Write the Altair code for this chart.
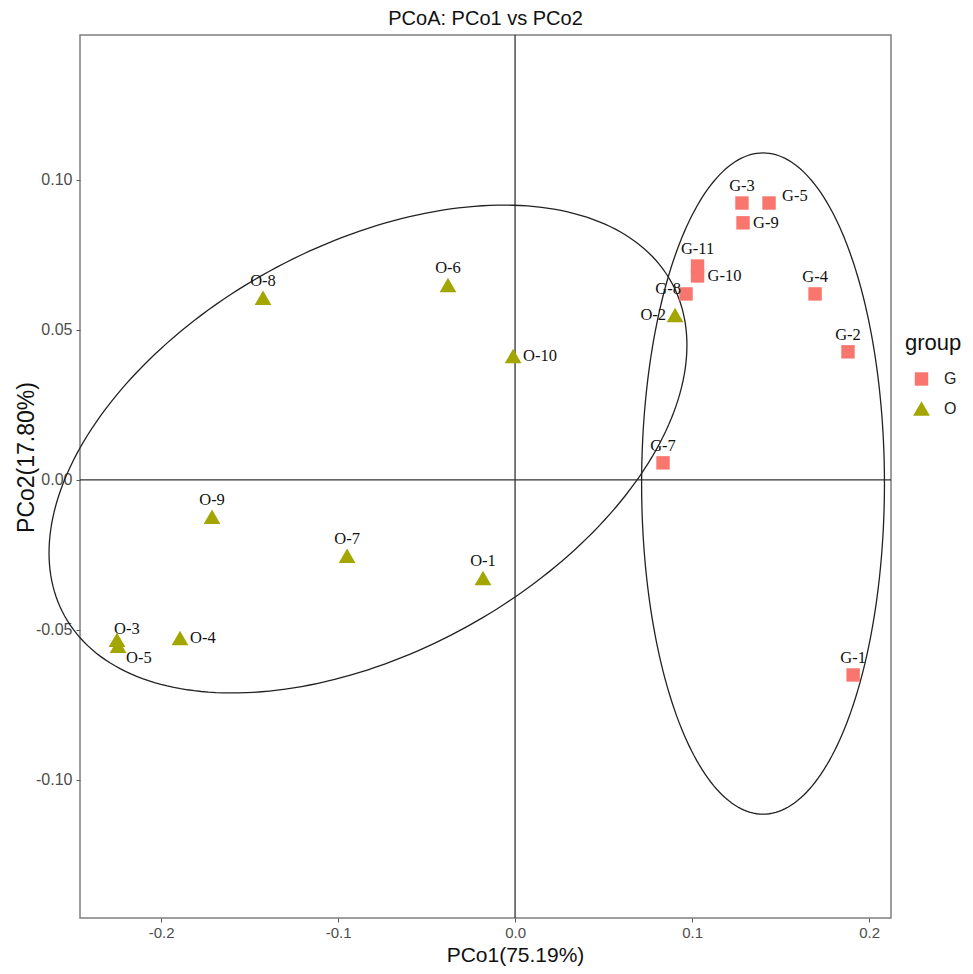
import altair as alt
import pandas as pd
import numpy as np

# ---- data ----
sample_ids = ["G-1", "G-2", "G-3", "G-4", "G-5", "G-7", "G-8", "G-9", "G-10", "G-11",
              "O-1", "O-2", "O-3", "O-4", "O-5", "O-6", "O-7", "O-8", "O-9", "O-10"]
groups = ["G"] * 10 + ["O"] * 10
pco1 = [0.1910, 0.1881, 0.1282, 0.1695, 0.1435, 0.0836, 0.0966, 0.1288, 0.1031, 0.1031,
        -0.0181, 0.0904, -0.2249, -0.1893, -0.2243, -0.0379, -0.0949, -0.1424, -0.1712, -0.0011]
pco2 = [-0.0650, 0.0427, 0.0923, 0.0620, 0.0923, 0.0057, 0.0620, 0.0857, 0.0680, 0.0713,
        -0.0327, 0.0550, -0.0533, -0.0527, -0.0553, 0.0650, -0.0253, 0.0607, -0.0123, 0.0413]
label_pos = ["top", "top", "top", "top", "upright", "top", "topleft", "right", "right", "top",
             "top", "left", "topright", "right", "bottomright", "top", "top", "top", "top", "right"]

# confidence ellipses (center, half-extents along x / y, phase between them in degrees)
ell_group = ["O", "G"]
ell_cx = [-0.0831, 0.1401]
ell_cy = [0.0103, -0.0012]
ell_rx = [0.1802, 0.0686]
ell_ry = [0.0813, 0.1102]
ell_phase = [64.8, 90.0]

x_ticks = [-0.2, -0.1, 0.0, 0.1, 0.2]
y_ticks = [-0.10, -0.05, 0.00, 0.05, 0.10]
x_domain = [-0.2458, 0.2124]
y_domain = [-0.146, 0.1483]

group_names = ["G", "O"]
group_colors = ["#F8766D", "#A3A500"]
group_shapes = ["square", "triangle-up"]
group_sizes = [180, 280]

# ---- tables ----
pts = pd.DataFrame({"id": sample_ids, "group": groups, "PCo1": pco1, "PCo2": pco2,
                    "pos": label_pos})

rows = []
t = np.linspace(0, 2 * np.pi, 241)
for g, cx, cy, rx, ry, ph in zip(ell_group, ell_cx, ell_cy, ell_rx, ell_ry, ell_phase):
    d = np.deg2rad(ph)
    for i, tt in enumerate(t):
        rows.append({"group": g, "i": i,
                     "PCo1": cx + rx * np.cos(tt),
                     "PCo2": cy + ry * np.cos(tt - d)})
ell = pd.DataFrame(rows)

xs = alt.Scale(domain=x_domain, nice=False, zero=False)
ys = alt.Scale(domain=y_domain, nice=False, zero=False)

x_axis = alt.Axis(values=x_ticks, labelExpr="replace(format(datum.value, '.1f'), '\u2212', '-')",
                  title="PCo1(75.19%)", titleX=435, titleY=37, titleBaseline="middle",
                  titleFontSize=21, titleFontWeight="normal", titleColor="#111111",
                  labelFontSize=15, labelColor="#4d4d4d", labelPadding=3,
                  tickSize=4, tickColor="#555555", domain=False, grid=False)
y_axis = alt.Axis(values=y_ticks, labelExpr="replace(format(datum.value, '.2f'), '\u2212', '-')",
                  title="PCo2(17.80%)", titleX=-54, titleY=422, titleBaseline="middle",
                  titleFontSize=23, titleFontWeight="normal", titleColor="#111111",
                  labelFontSize=16, labelColor="#4d4d4d", labelPadding=4,
                  tickSize=4, tickColor="#555555", domain=False, grid=False)

zero_v = alt.Chart(pd.DataFrame({"v": [0.0]})).mark_rule(color="#333333", strokeWidth=1.3).encode(
    x=alt.X("v:Q", scale=xs, axis=x_axis))
zero_h = alt.Chart(pd.DataFrame({"v": [0.0]})).mark_rule(color="#333333", strokeWidth=1.3).encode(
    y=alt.Y("v:Q", scale=ys, axis=y_axis))

ellipses = alt.Chart(ell).mark_line(color="#222222", strokeWidth=1.3, clip=False).encode(
    x=alt.X("PCo1:Q", scale=xs),
    y=alt.Y("PCo2:Q", scale=ys),
    detail="group:N",
    order="i:Q",
)

points = alt.Chart(pts).mark_point(filled=True, opacity=1).encode(
    x=alt.X("PCo1:Q", scale=xs),
    y=alt.Y("PCo2:Q", scale=ys),
    color=alt.Color("group:N", scale=alt.Scale(domain=group_names, range=group_colors),
                    legend=alt.Legend(title="group")),
    shape=alt.Shape("group:N", scale=alt.Scale(domain=group_names, range=group_shapes),
                    legend=alt.Legend(title="group")),
    size=alt.Size("group:N", scale=alt.Scale(domain=group_names, range=group_sizes), legend=None),
)

pos_style = {
    "top": dict(align="center", baseline="bottom", dx=0, dy=-9),
    "right": dict(align="left", baseline="middle", dx=10, dy=0),
    "upright": dict(align="left", baseline="middle", dx=13, dy=-7),
    "left": dict(align="right", baseline="middle", dx=-9, dy=0),
    "topleft": dict(align="right", baseline="middle", dx=-5, dy=-5),
    "topright": dict(align="left", baseline="middle", dx=-3, dy=-11),
    "bottomright": dict(align="left", baseline="middle", dx=8, dy=12),
}
labels = []
for p, st in pos_style.items():
    labels.append(
        alt.Chart(pts).transform_filter(alt.datum.pos == p).mark_text(
            font="Liberation Serif", fontSize=16.5, color="#111111", **st
        ).encode(x=alt.X("PCo1:Q", scale=xs), y=alt.Y("PCo2:Q", scale=ys), text="id:N")
    )

chart = alt.layer(zero_v, zero_h, ellipses, points, *labels).properties(
    width=811, height=883,
    title=alt.TitleParams("PCoA: PCo1 vs PCo2", fontSize=20, fontWeight="normal",
                          font="Liberation Sans", color="#111111", anchor="middle", offset=5),
    autosize=alt.AutoSizeParams(type="none"),
    padding={"left": 72, "top": 27, "right": 74, "bottom": 48},
).configure_view(
    stroke="#7f7f7f", strokeWidth=1.5
).configure_axis(
    labelFont="Liberation Sans", titleFont="Liberation Sans"
).configure_legend(
    orient="none", legendX=825, legendY=298,
    titleFont="Liberation Sans", titleFontSize=22, titleFontWeight="normal", titleColor="#111111",
    labelFont="Liberation Sans", labelFontSize=16, labelColor="#222222",
    symbolSize=200, symbolStrokeWidth=0, rowPadding=13, titlePadding=16,
    symbolOffset=8, labelOffset=14, padding=0,
)

chart.save("out.html", embed_options={"renderer": "svg", "actions": False})
